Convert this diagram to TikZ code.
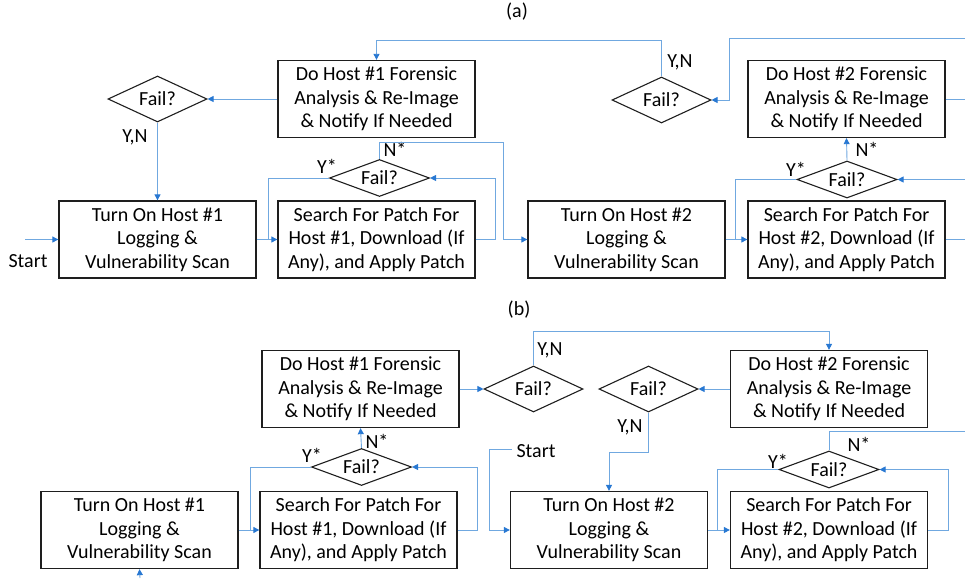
\documentclass[tikz,border=0pt]{standalone}
\usepackage{fontspec}
\setmainfont{Carlito}
\usetikzlibrary{shapes.geometric,arrows.meta}
\definecolor{linecol}{RGB}{112,168,224}
\definecolor{arrowcol}{RGB}{40,120,210}
\definecolor{boxcol}{RGB}{30,30,30}
\begin{document}
\begin{tikzpicture}[x=1pt,y=-1pt,
  font=\fontsize{20}{23.5}\selectfont,
  stepbox/.style={draw=boxcol,line width=1.3pt,rectangle,minimum width=197pt,minimum height=77pt,inner sep=0pt,align=center,execute at begin node={\rule{0pt}{25pt}}},
  failbig/.style={draw=boxcol,line width=1.1pt,diamond,shape aspect=3,minimum width=99pt,minimum height=46pt,inner sep=0pt},
  failsmall/.style={draw=boxcol,line width=1.1pt,diamond,shape aspect=3,minimum width=100pt,minimum height=37pt,inner sep=0pt},
  conn/.style={draw=linecol,line width=0.9pt},
  arr/.style={conn,-{Triangle[length=6pt,width=6pt,color=arrowcol]}},
  lbl/.style={inner sep=0pt}
]
\useasboundingbox (0,0) rectangle (965,578);
% ---------------- panel (a) ----------------
\node[lbl] (titA) at (517,12) {(a)};
\node[stepbox] (F1a) at (376.5,99) {Do Host \#1 Forensic\\Analysis \& Re-Image\\\& Notify If Needed};
\node[stepbox] (T1a) at (157.5,239.5) {Turn On Host \#1\\Logging \&\\Vulnerability Scan};
\node[stepbox] (S1a) at (376.5,239.5) {Search For Patch For\\Host \#1, Download (If\\Any), and Apply Patch};
\node[stepbox] (T2a) at (626.5,239.5) {Turn On Host \#2\\Logging \&\\Vulnerability Scan};
\node[stepbox] (F2a) at (846.5,99) {Do Host \#2 Forensic\\Analysis \& Re-Image\\\& Notify If Needed};
\node[stepbox] (S2a) at (846.5,239.5) {Search For Patch For\\Host \#2, Download (If\\Any), and Apply Patch};
\node[failbig] (D1a) at (157.5,99) {Fail?};
\node[failsmall] (P1a) at (379.5,178) {Fail?};
\node[failbig] (D2a) at (661.5,100) {Fail?};
\node[failsmall] (P2a) at (847,179.5) {Fail?};
% labels (a)
\node[lbl] (lYNa1) at (135,137) {Y,N};
\node[lbl] (lYNa2) at (680,62) {Y,N};
\node[lbl] (lYa1) at (327,166) {Y*};
\node[lbl] (lNa1) at (395,149) {N*};
\node[lbl] (lYa2) at (796,169) {Y*};
\node[lbl] (lNa2) at (867,149) {N*};
\node[lbl] (lStartA) at (28,261) {Start};
% coordinates (a)
\coordinate (sA) at (25,239.5);
\coordinate (jA1) at (268,239.5);
\coordinate (jA2) at (495,239.5);
\coordinate (jA3) at (503,142);
\coordinate (jA4) at (735,239.5);
\coordinate (eA1) at (965,239.5);
\coordinate (eA2) at (965,179.5);
\coordinate (eA3) at (965,99);
\coordinate (eA4) at (965,38);
\coordinate (jA5) at (729,38);
\coordinate (jA6) at (661.5,40);
% connectors (a)
\draw[arr] (sA) -- (T1a.west);
\draw[arr] (F1a.west) -- (D1a.east);
\draw[arr] (D1a.south) -- (T1a.north);
\draw[arr] (T1a.east) -- (S1a.west);
\draw[conn] (P1a.west) -| (jA1);
\draw[arr] (S1a.east) -- (jA2) |- (P1a.east);
\draw[arr] (P1a.north) |- (jA3) |- (T2a.west);
\draw[arr] (T2a.east) -- (S2a.west);
\draw[conn] (P2a.west) -| (jA4);
\draw[conn] (S2a.east) -- (eA1);
\draw[arr] (eA2) -- (P2a.east);
\draw[arr] (P2a.north) -- (F2a.south);
\draw[conn] (F2a.east) -- (eA3);
\draw[arr] (eA4) -- (jA5) |- (D2a.east);
\draw[arr] (D2a.north) -- (jA6) -| (F1a.north);
% ---------------- panel (b) ----------------
\node[lbl] (titB) at (519,310) {(b)};
\node[stepbox] (F1b) at (360.5,389) {Do Host \#1 Forensic\\Analysis \& Re-Image\\\& Notify If Needed};
\node[stepbox] (T1b) at (139.5,530) {Turn On Host \#1\\Logging \&\\Vulnerability Scan};
\node[stepbox] (S1b) at (358.5,530) {Search For Patch For\\Host \#1, Download (If\\Any), and Apply Patch};
\node[stepbox] (F2b) at (829,389) {Do Host \#2 Forensic\\Analysis \& Re-Image\\\& Notify If Needed};
\node[stepbox] (T2b) at (609,530) {Turn On Host \#2\\Logging \&\\Vulnerability Scan};
\node[stepbox] (S2b) at (829,530) {Search For Patch For\\Host \#2, Download (If\\Any), and Apply Patch};
\node[failsmall] (P1b) at (361.5,467) {Fail?};
\node[failbig] (D1b) at (533.5,389) {Fail?};
\node[failbig] (D2b) at (648.5,389) {Fail?};
\node[failsmall] (P2b) at (829,469.5) {Fail?};
% labels (b)
\node[lbl] (lYNb1) at (550,350) {Y,N};
\node[lbl] (lYNb2) at (630,427) {Y,N};
\node[lbl] (lStartB) at (536,451) {Start};
\node[lbl] (lNb1) at (377,441) {N*};
\node[lbl] (lYb1) at (312,455) {Y*};
\node[lbl] (lNb2) at (859,444) {N*};
\node[lbl] (lYb2) at (778,461) {Y*};
% coordinates (b)
\coordinate (sB1) at (140,578);
\coordinate (jB1) at (250,530);
\coordinate (jB2) at (477,530);
\coordinate (jB3) at (533.5,331);
\coordinate (jB4) at (648.5,452);
\coordinate (sB2) at (512,449);
\coordinate (jB5) at (489,449);
\coordinate (jB6) at (717,530);
\coordinate (jB7) at (948,530);
\coordinate (eB1) at (965,431);
% connectors (b)
\draw[arr] (sB1) -- (T1b.south);
\draw[arr] (T1b.east) -- (S1b.west);
\draw[conn] (P1b.west) -| (jB1);
\draw[arr] (S1b.east) -- (jB2) |- (P1b.east);
\draw[arr] (P1b.north) -- (F1b.south);
\draw[arr] (F1b.east) -- (D1b.west);
\draw[arr] (D1b.north) -- (jB3) -| (F2b.north);
\draw[arr] (F2b.west) -- (D2b.east);
\draw[arr] (D2b.south) -- (jB4) -| (T2b.north);
\draw[arr] (sB2) -- (jB5) |- (T2b.west);
\draw[arr] (T2b.east) -- (S2b.west);
\draw[conn] (P2b.west) -| (jB6);
\draw[arr] (S2b.east) -- (jB7) |- (P2b.east);
\draw[conn] (P2b.north) |- (eB1);
\end{tikzpicture}
\end{document}
